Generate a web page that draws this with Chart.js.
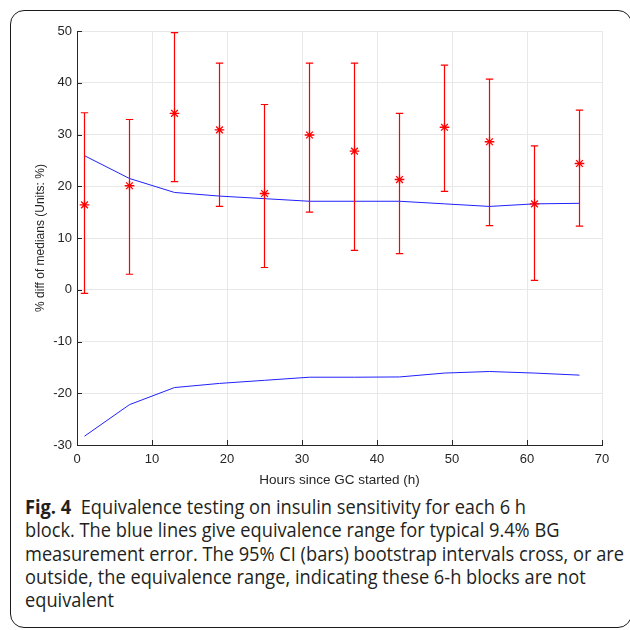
<!DOCTYPE html>
<html>
<head>
<meta charset="utf-8">
<script src="https://cdn.jsdelivr.net/npm/chart.js@4/dist/chart.umd.min.js"></script>
<style>
  html, body { margin: 0; padding: 0; background: #fff; }
  body { width: 630px; height: 630px; position: relative; overflow: hidden; }
  #frame {
    position: absolute; left: 10px; top: 10px; width: 620px; height: 616px;
    border: 1.3px solid #1a1a1a; border-radius: 14px;
  }
  #wrap { position: absolute; left: 0; top: 0; width: 630px; height: 492px; }
  #caption {
    position: absolute; left: 25px; top: 495px; white-space: nowrap;
    font-family: "Open Sans", "Noto Sans", sans-serif; font-size: 19.5px; line-height: 23.3px;
    color: #231f20; transform: scaleX(0.935); transform-origin: left top;
  }
  #caption b { font-weight: 700; }
</style>
</head>
<body>
<div id="frame"></div>
<div id="wrap"><canvas id="chart"></canvas></div>
<div id="caption">
  <b>Fig. 4</b>&nbsp; Equivalence testing on insulin sensitivity for each 6 h<br>
  block. The blue lines give equivalence range for typical 9.4% BG<br>
  measurement error. The 95% CI (bars) bootstrap intervals cross, or are<br>
  outside, the equivalence range, indicating these 6-h blocks are not<br>
  equivalent
</div>
<script>
// dados
const hours = [1, 7, 13, 19, 25, 31, 37, 43, 49, 55, 61, 67];
const medianDiff = [16.4, 20.1, 34.1, 30.9, 18.6, 29.9, 26.8, 21.3, 31.4, 28.6, 16.6, 24.4];
const ciUpper = [34.2, 32.9, 49.7, 43.8, 35.8, 43.8, 43.8, 34.1, 43.4, 40.7, 27.8, 34.7];
const ciLower = [-0.7, 3.0, 20.9, 16.1, 4.3, 15.0, 7.6, 7.0, 19.0, 12.4, 1.8, 12.3];
const eqUpper = [25.9, 21.5, 18.8, 18.1, 17.6, 17.1, 17.1, 17.1, 16.6, 16.1, 16.6, 16.7];
const eqLower = [-28.3, -22.2, -18.9, -18.1, -17.5, -16.9, -16.9, -16.85, -16.1, -15.8, -16.1, -16.5];

const axisColor = '#262626';
const gridColor = '#e8e8e8';

// barras de erro (IC 95%)
const errorBars = {
  id: 'errorBars',
  afterDatasetDraw(chart, args) {
    if (args.index !== 1) return;
    const { ctx, scales: { x, y } } = chart;
    ctx.save();
    ctx.strokeStyle = '#ff0000';
    ctx.lineWidth = 1.2;
    for (let i = 0; i < hours.length; i++) {
      const px = x.getPixelForValue(hours[i]);
      const top = y.getPixelForValue(ciUpper[i]);
      const bot = y.getPixelForValue(ciLower[i]);
      ctx.beginPath();
      ctx.moveTo(px, top); ctx.lineTo(px, bot);
      ctx.moveTo(px - 3.7, top); ctx.lineTo(px + 3.7, top);
      ctx.moveTo(px - 3.7, bot); ctx.lineTo(px + 3.7, bot);
      ctx.stroke();
    }
    ctx.restore();
  }
};

// marcas dos ticks para dentro, estilo matlab
const innerTicks = {
  id: 'innerTicks',
  afterDraw(chart) {
    const { ctx, chartArea, scales: { x, y } } = chart;
    ctx.save();
    ctx.strokeStyle = axisColor;
    ctx.lineWidth = 1;
    ctx.beginPath();
    x.ticks.forEach(t => {
      const px = Math.round(x.getPixelForValue(t.value)) + 0.5;
      ctx.moveTo(px, chartArea.bottom); ctx.lineTo(px, chartArea.bottom - 5);
    });
    y.ticks.forEach(t => {
      const py = Math.round(y.getPixelForValue(t.value)) + 0.5;
      ctx.moveTo(chartArea.left, py); ctx.lineTo(chartArea.left + 5, py);
    });
    ctx.stroke();
    ctx.restore();
  }
};

new Chart(document.getElementById('chart'), {
  type: 'scatter',
  data: {
    datasets: [
      {
        label: 'median',
        data: hours.map((h, i) => ({ x: h, y: medianDiff[i] })),
        pointStyle: 'star',
        radius: 4.8,
        borderColor: '#ff0000',
        backgroundColor: '#ff0000',
        borderWidth: 1.3,
        showLine: false
      },
      {
        label: 'eq upper',
        data: hours.map((h, i) => ({ x: h, y: eqUpper[i] })),
        showLine: true,
        borderColor: '#2020ff',
        borderWidth: 1,
        pointRadius: 0,
        tension: 0
      },
      {
        label: 'eq lower',
        data: hours.map((h, i) => ({ x: h, y: eqLower[i] })),
        showLine: true,
        borderColor: '#2020ff',
        borderWidth: 1,
        pointRadius: 0,
        tension: 0
      }
    ]
  },
  options: {
    responsive: true,
    maintainAspectRatio: false,
    animation: false,
    layout: { padding: { left: 29, top: 31, right: 28, bottom: 0 } },
    plugins: { legend: { display: false }, tooltip: { enabled: false } },
    scales: {
      x: {
        type: 'linear', min: 0, max: 70,
        afterFit: s => { s.height = 47; },
        ticks: { stepSize: 10, color: axisColor, padding: 7, font: { family: 'Liberation Sans', size: 13 } },
        grid: { color: gridColor, drawTicks: false },
        border: { color: axisColor, width: 1 },
        title: {
          display: true, text: 'Hours since GC started (h)', color: axisColor,
          font: { family: 'Liberation Sans', size: 13.5 }, padding: { top: 4, bottom: 4 }
        }
      },
      y: {
        type: 'linear', min: -30, max: 50,
        afterFit: s => { s.width = 48; },
        ticks: { stepSize: 10, color: axisColor, padding: 5, font: { family: 'Liberation Sans', size: 13 } },
        grid: { color: gridColor, drawTicks: false },
        border: { color: axisColor, width: 1 },
        title: {
          display: true, text: '% diff of medians (Units: %)', color: axisColor,
          font: { family: 'Liberation Sans', size: 12 }, padding: { top: 4, bottom: 4 }
        }
      }
    }
  },
  plugins: [errorBars, innerTicks]
});
</script>
</body>
</html>
